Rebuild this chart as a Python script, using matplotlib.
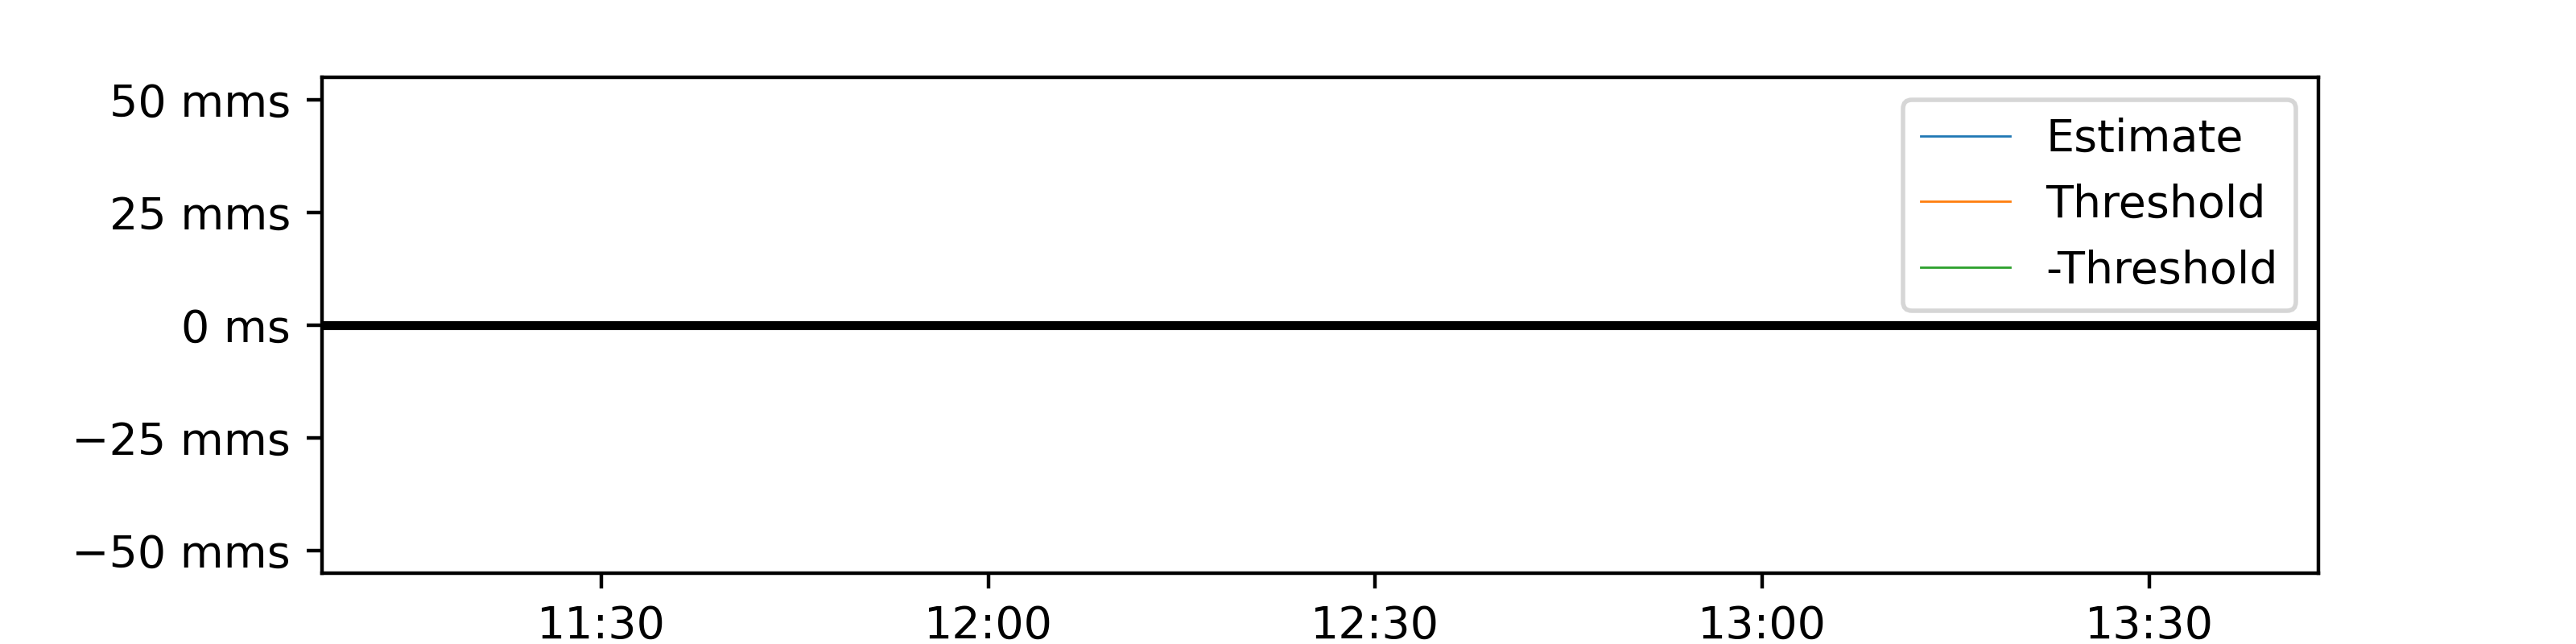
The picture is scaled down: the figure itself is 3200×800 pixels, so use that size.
import datetime as dt
import matplotlib
matplotlib.use('Agg')
import matplotlib.pyplot as plt
import matplotlib.dates as mdates
from matplotlib.ticker import EngFormatter

# Data (the series are empty in the reference, only the zero line is visible)
times = []
estimate = []
threshold = []
neg_threshold = []

x_start = dt.datetime(2024, 1, 1, 11, 8, 22)
x_end = dt.datetime(2024, 1, 1, 13, 43, 6)
y_limit = 0.055  # seconds

fig, ax = plt.subplots(figsize=(8, 2), dpi=400)
ax.xaxis_date()

ax.plot(times, estimate, label='Estimate', linewidth=0.5)
ax.plot(times, threshold, label='Threshold', linewidth=0.5)
ax.plot(times, neg_threshold, label='-Threshold', linewidth=0.5)
ax.axhline(0, color='k', linewidth=2)

ax.set_xlim(x_start, x_end)
ax.set_ylim(-y_limit, y_limit)
ax.set_yticks([-0.05, -0.025, 0, 0.025, 0.05])
ax.yaxis.set_major_formatter(EngFormatter(unit='ms'))
ax.xaxis.set_major_locator(mdates.MinuteLocator(byminute=[0, 30]))
ax.xaxis.set_major_formatter(mdates.DateFormatter('%H:%M'))

ax.legend(loc='upper right')

fig.savefig('out.png', dpi=400)
